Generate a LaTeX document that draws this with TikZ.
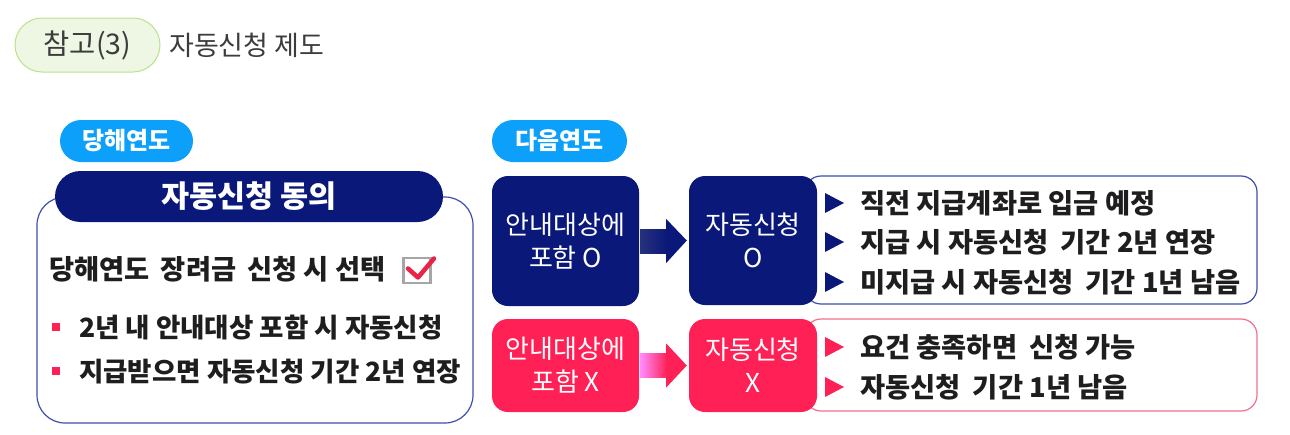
\documentclass[tikz,border=0pt]{standalone}
\usepackage{fontspec}
\setmainfont{Noto Sans CJK KR}
\usetikzlibrary{calc}
\definecolor{navy}{RGB}{10,24,122}
\definecolor{lblue}{RGB}{12,160,250}
\definecolor{hred}{RGB}{255,32,86}
\definecolor{oblue}{RGB}{62,78,172}
\definecolor{opink}{RGB}{242,112,142}
\definecolor{gfill}{RGB}{238,246,228}
\definecolor{gline}{RGB}{186,226,140}
\definecolor{txt}{RGB}{30,30,30}
\definecolor{gtxt}{RGB}{60,60,60}
\definecolor{ckred}{RGB}{232,36,72}
\tikzset{
  pillbox/.style={rectangle, rounded corners=21pt, fill=lblue, text=white, font=\fontsize{24}{26}\selectfont\bfseries, inner sep=0pt},
  navybox/.style={rectangle, rounded corners=16pt, fill=navy, text=white, align=center, font=\fontsize{26}{33}\selectfont, inner sep=0pt},
  redbox/.style={rectangle, rounded corners=16pt, fill=hred, text=white, align=center, font=\fontsize{26}{33}\selectfont, inner sep=0pt},
  outbox/.style={rectangle, rounded corners=16pt, fill=white, line width=1.2pt, inner sep=0pt},
  bodytext/.style={anchor=west, text=txt, font=\fontsize{27.3}{30}\selectfont\bfseries, inner sep=0pt},
  sq/.style={rectangle, fill=hred, minimum size=8pt, inner sep=0pt},
}
\begin{document}
\begin{tikzpicture}[x=1pt,y=-1pt]
\useasboundingbox (0,0) rectangle (1290,434);
% header
\node[rectangle, rounded corners=27pt, fill=gfill, draw=gline, line width=1pt, minimum width=145pt, minimum height=54pt, text=gtxt, font=\fontsize{28.5}{30}\selectfont, inner sep=0pt] (ref) at (87.5,45) {참고(3)};
\node[anchor=west, text=gtxt, font=\fontsize{27}{30}\selectfont, inner sep=0pt] (title) at (169,45) {자동신청 제도};
% left section
\node[pillbox, minimum width=133pt, minimum height=42pt] (year1) at (126.5,141) {당해연도};
\node[outbox, draw=oblue, rounded corners=28pt, minimum width=436pt, minimum height=226pt] (box1) at (255,310) {};
\node[rectangle, rounded corners=25.5pt, fill=navy, text=white, minimum width=388pt, minimum height=51pt, font=\fontsize{30.5}{32}\selectfont\bfseries, inner sep=0pt] (hdr) at (249,196.5) {자동신청 동의};
\node[bodytext] (sel) at (49,269) {당해연도\hspace{5pt} 장려금\hspace{5pt} 신청 시 선택};
\node[rectangle, draw=gray!70, line width=2.5pt, fill=white, minimum width=27pt, minimum height=25pt, inner sep=0pt] (chk) at (417,270.5) {};
\draw[ckred, line width=4.5pt, line cap=round, line join=round] ($(chk.center)+(-9,-2)$) -- ($(chk.center)+(1,7)$) -- ($(chk.center)+(17,-12)$);
\node[sq] (b1) at (56,326.5) {};
\node[bodytext, font=\fontsize{26.5}{30}\selectfont\bfseries] (t1) at (79,328) {2년 내 안내대상 포함 시 자동신청};
\node[sq] (b2) at (56,370.5) {};
\node[bodytext, font=\fontsize{26.5}{30}\selectfont\bfseries] (t2) at (79,372) {지급받으면 자동신청 기간 2년 연장};
% right section
\node[pillbox, minimum width=135pt, minimum height=42pt] (year2) at (559.5,141) {다음연도};
% blue row
\node[outbox, draw=oblue, minimum width=452pt, minimum height=128pt] (o1) at (1031,240) {};
\node[navybox, minimum width=147pt, minimum height=130pt] (a1) at (565.5,241) {안내대상에\\포함 O};
\node[navybox, minimum width=128pt, minimum height=129pt] (c1) at (753,240.5) {자동신청\\O};
\shade[left color=navy!75!gray, right color=navy] ($(a1.east)+(1,-12)$) rectangle ($(a1.east)+(28,12)$);
\fill[navy] ($(a1.east)+(27,-22)$) -- ($(c1.west)+(-2,0)$) -- ($(a1.east)+(27,22)$) -- cycle;
% red row
\node[outbox, draw=opink, minimum width=452pt, minimum height=92pt] (o2) at (1031,365) {};
\node[redbox, minimum width=147pt, minimum height=93pt] (a2) at (565.5,365.5) {안내대상에\\포함 X};
\node[redbox, minimum width=128pt, minimum height=93pt] (c2) at (753,365.5) {자동신청\\X};
\shade[left color=magenta!45!white, right color=hred] ($(a2.east)+(1,-12)$) rectangle ($(a2.east)+(28,12)$);
\fill[hred] ($(a2.east)+(27,-22)$) -- ($(c2.west)+(-2,0)$) -- ($(a2.east)+(27,22)$) -- cycle;
% right bullets
\foreach \yy/\nm/\tx in {203/r1/{직전 지급계좌로 입금 예정}, 242/r2/{지급 시 자동신청\hspace{6pt} 기간 2년 연장}, 282/r3/{미지급 시 자동신청\hspace{6pt} 기간 1년 남음}}{
  \fill[navy] (825,\yy-10) -- (844,\yy) -- (825,\yy+10) -- cycle;
  \node[bodytext] (\nm) at (860,\yy) {\tx};
}
\foreach \yy/\nm/\tx in {347/r4/{요건 충족하면\hspace{6pt} 신청 가능}, 387/r5/{자동신청\hspace{6pt} 기간 1년 남음}}{
  \fill[hred] (825,\yy-10) -- (844,\yy) -- (825,\yy+10) -- cycle;
  \node[bodytext] (\nm) at (860,\yy) {\tx};
}
\end{tikzpicture}
\end{document}
